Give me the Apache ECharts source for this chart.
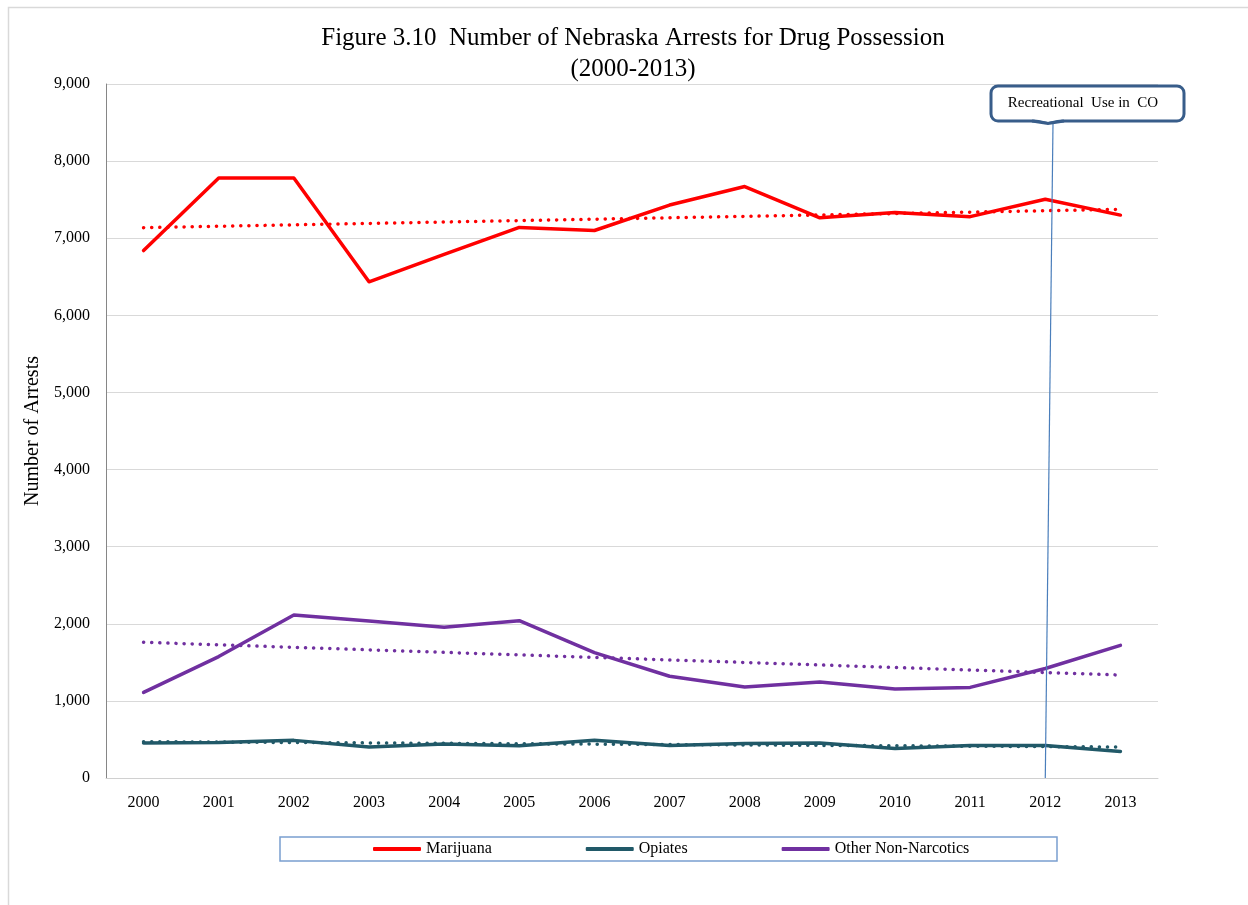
<!DOCTYPE html>
<html>
<head>
<meta charset="utf-8">
<script src="https://cdn.jsdelivr.net/npm/echarts@6/dist/echarts.min.js"></script>
<style>
html,body{margin:0;padding:0;background:#fff;}
#chart{width:1248px;height:905px;}
</style>
</head>
<body>
<div id="chart"></div>
<script>
var years = ['2000','2001','2002','2003','2004','2005','2006','2007','2008','2009','2010','2011','2012','2013'];
var marijuana = [6840, 7780, 7780, 6435, 6790, 7140, 7100, 7430, 7670, 7265, 7335, 7280, 7505, 7300];
var opiates = [455, 460, 488, 402, 441, 419, 488, 420, 449, 454, 384, 423, 423, 345];
var otherNonNarcotics = [1110, 1575, 2115, 2035, 1955, 2040, 1625, 1320, 1180, 1245, 1155, 1175, 1420, 1720];
// trend line end values (first year, last year)
var marijuanaTrend = [7137, 7375];
var opiatesTrend = [471, 402];
var otherTrend = [1760, 1335];
var yTicks = [0, 1000, 2000, 3000, 4000, 5000, 6000, 7000, 8000, 9000];
var annotationYear = '2012';
var annotationText = 'Recreational  Use in  CO';

function trendData(ends) {
  var d = years.map(function () { return null; });
  d[0] = ends[0];
  d[d.length - 1] = ends[1];
  return d;
}

var serif = '"Liberation Serif", "Times New Roman", serif';
var RED = '#ff0000', TEAL = '#215968', PURPLE = '#7030a0';

function mainSeries(name, data, color) {
  return {
    name: name, type: 'line', data: data, symbol: 'none',
    lineStyle: { color: color, width: 3.5, cap: 'round', join: 'round' },
    itemStyle: { color: color }, z: 3
  };
}
function trendSeries(name, ends, color) {
  return {
    name: name, type: 'line', data: trendData(ends), connectNulls: true, symbol: 'none',
    lineStyle: { color: color, width: 3.5, type: [0.1, 8], cap: 'round' },
    itemStyle: { color: color }, z: 4, silent: true
  };
}

var chart = echarts.init(document.getElementById('chart'), null, { renderer: 'canvas' });
var option = {
  animation: false,
  backgroundColor: '#ffffff',
  textStyle: { fontFamily: serif },
  title: [{
    text: 'Figure 3.10  Number of Nebraska Arrests for Drug Possession\n(2000-2013)',
    left: 628, top: 18, textAlign: 'center',
    textStyle: { fontFamily: serif, fontSize: 25, fontWeight: 'normal', color: '#000', lineHeight: 31 }
  }],
  grid: { left: 106, right: 90, top: 84, bottom: 127 },
  legend: {
    data: [
      { name: 'Marijuana', icon: 'roundRect' },
      { name: 'Opiates', icon: 'roundRect' },
      { name: 'Other Non-Narcotics', icon: 'roundRect' }
    ],
    left: 373, top: 841, padding: 0,
    itemWidth: 48, itemHeight: 4, itemGap: 94,
    textStyle: { fontFamily: serif, fontSize: 16, color: '#000', lineHeight: 16 }
  },
  xAxis: {
    type: 'category', data: years, boundaryGap: true,
    axisLine: { show: true, lineStyle: { color: '#d0d0d0', width: 1 } },
    axisTick: { show: false },
    axisLabel: { fontFamily: serif, fontSize: 16, color: '#000', margin: 17 },
    splitLine: { show: false }
  },
  yAxis: {
    type: 'value', min: yTicks[0], max: yTicks[yTicks.length - 1], interval: 1000,
    name: 'Number of Arrests', nameLocation: 'middle', nameGap: 63,
    nameTextStyle: { fontFamily: serif, fontSize: 20, color: '#000' },
    axisLine: { show: true, lineStyle: { color: '#868686', width: 1 } },
    axisTick: { show: false },
    axisLabel: {
      fontFamily: serif, fontSize: 16, color: '#000', margin: 16,
      formatter: function (v) { return v.toLocaleString('en-US'); }
    },
    splitLine: { show: true, lineStyle: { color: '#d9d9d9', width: 1 } }
  },
  series: [
    mainSeries('Marijuana', marijuana, RED),
    mainSeries('Opiates', opiates, TEAL),
    mainSeries('Other Non-Narcotics', otherNonNarcotics, PURPLE),
    trendSeries('Marijuana trend', marijuanaTrend, RED),
    trendSeries('Opiates trend', opiatesTrend, TEAL),
    trendSeries('Other trend', otherTrend, PURPLE),
    {
      name: 'annotation', type: 'line', data: [], silent: true,
      markLine: {
        silent: true, symbol: ['none', 'none'], label: { show: false },
        lineStyle: { color: '#4a7ebb', width: 1.2, type: 'solid' },
        data: [[ { coord: [annotationYear, 0] }, { x: 1053, y: 123 } ]]
      }
    }
  ],
  graphic: [
    { type: 'rect', shape: { x: 8.5, y: 7.5, width: 1260, height: 920 },
      style: { fill: 'none', stroke: '#d9d9d9', lineWidth: 1.5 }, z: -10, silent: true },
    { type: 'rect', shape: { x: 280, y: 837, width: 777, height: 24 },
      style: { fill: 'none', stroke: '#7a9fd0', lineWidth: 1.5 }, silent: true },
    { type: 'rect', shape: { x: 991, y: 86, width: 193, height: 35, r: 7 },
      style: { fill: '#ffffff', stroke: '#385d8a', lineWidth: 3 }, z: 10, silent: true },
    { type: 'polygon', shape: { points: [[1034, 119], [1062, 119], [1048, 122]] },
      style: { fill: '#ffffff', stroke: null }, z: 11, silent: true },
    { type: 'polyline', shape: { points: [[1032, 121], [1048, 123.5], [1064, 121]] },
      style: { stroke: '#385d8a', lineWidth: 3, fill: null }, z: 11, silent: true },
    { type: 'text', x: 1083, y: 103, z: 12, silent: true,
      style: { text: annotationText, fontFamily: serif, fontSize: 15, fill: '#000',
               textAlign: 'center', textVerticalAlign: 'middle' } }
  ]
};
chart.setOption(option);
</script>
</body>
</html>
